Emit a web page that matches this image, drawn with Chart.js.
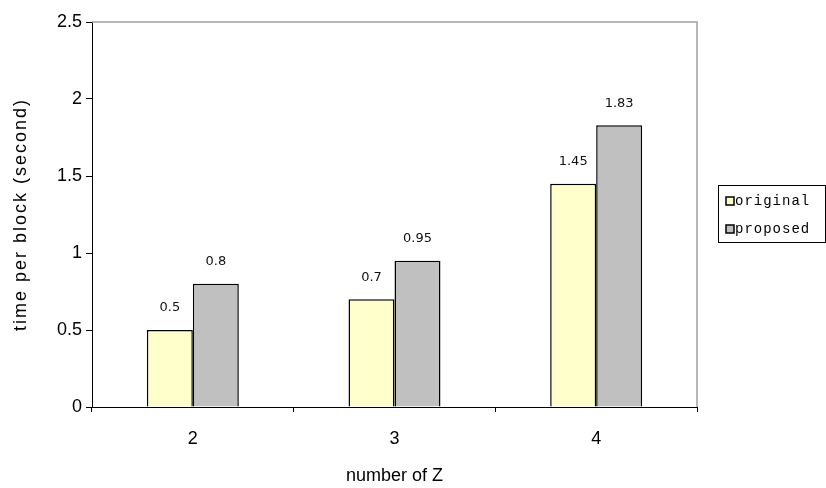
<!DOCTYPE html>
<html>
<head>
<meta charset="utf-8">
<script src="https://cdn.jsdelivr.net/npm/chart.js@4/dist/chart.umd.min.js"></script>
<style>
  html, body { margin: 0; padding: 0; background: #fff; }
  #wrap { width: 826px; height: 488px; }
</style>
</head>
<body>
<div id="wrap"><canvas id="timeChart" width="826" height="488"></canvas></div>
<script>
// number of Z vs. time per block
const categories = ['2', '3', '4'];
const original   = [0.5, 0.7, 1.45];
const proposed   = [0.8, 0.95, 1.83];
const seriesNames = ['original', 'proposed'];
const yTicks = [0, 0.5, 1, 1.5, 2, 2.5];

const fillColors = ['#FFFFCC', '#C0C0C0'];

// value labels above each bar
const barLabels = {
  id: 'barLabels',
  afterDatasetsDraw(chart) {
    const ctx = chart.ctx;
    ctx.save();
    ctx.font = '13px "DejaVu Sans", sans-serif';
    ctx.fillStyle = '#111';
    ctx.textAlign = 'center';
    ctx.textBaseline = 'middle';
    chart.data.datasets.forEach((ds, i) => {
      chart.getDatasetMeta(i).data.forEach((bar, j) => {
        ctx.fillText(String(ds.data[j]), bar.x, bar.y - 22);
      });
    });
    ctx.restore();
  }
};

// grey frame on top and right of the plot area
const plotFrame = {
  id: 'plotFrame',
  afterDraw(chart) {
    const { left, top, right, bottom } = chart.chartArea;
    const ctx = chart.ctx;
    ctx.save();
    ctx.strokeStyle = '#A0A0A0';
    ctx.lineWidth = 1.5;
    ctx.beginPath();
    ctx.moveTo(left, top);
    ctx.lineTo(right, top);
    ctx.lineTo(right, bottom);
    ctx.stroke();
    ctx.restore();
  }
};

// boxed legend on the right
const boxLegend = {
  id: 'boxLegend',
  afterDraw(chart) {
    const ctx = chart.ctx;
    const x0 = 718, y0 = 185, w = 107, h = 57;
    ctx.save();
    ctx.strokeStyle = '#000';
    ctx.lineWidth = 1;
    ctx.strokeRect(x0 + 0.5, y0 + 0.5, w, h);
    ctx.font = '14px "Liberation Mono", monospace';
    ctx.letterSpacing = '1px';
    ctx.textBaseline = 'middle';
    ctx.textAlign = 'left';
    const rows = [201, 229];
    chart.data.datasets.forEach((ds, i) => {
      const cy = rows[i];
      ctx.fillStyle = ds.backgroundColor;
      ctx.fillRect(726, cy - 4, 8, 8);
      ctx.lineWidth = 1.5;
      ctx.strokeRect(726, cy - 4, 8, 8);
      ctx.fillStyle = '#000';
      ctx.fillText(ds.label, 735, cy);
    });
    ctx.restore();
  }
};

// the y title is set a little wider than the default
function spacedTitle(scale) {
  if (scale._spaced) return;
  scale._spaced = true;
  const base = scale.drawTitle;
  scale.drawTitle = function () {
    const ctx = this.ctx;
    ctx.save();
    ctx.letterSpacing = '2px';
    base.call(this);
    ctx.restore();
  };
}

new Chart(document.getElementById('timeChart'), {
  type: 'bar',
  data: {
    labels: categories,
    datasets: [
      { label: seriesNames[0], data: original, backgroundColor: fillColors[0], borderColor: '#000', borderWidth: 1.5 },
      { label: seriesNames[1], data: proposed, backgroundColor: fillColors[1], borderColor: '#000', borderWidth: 1.5 }
    ]
  },
  options: {
    responsive: false,
    animation: false,
    categoryPercentage: 0.456,
    barPercentage: 1,
    layout: { padding: { top: 22, right: 129, left: 0, bottom: 0 } },
    plugins: { legend: { display: false }, tooltip: { enabled: false } },
    scales: {
      x: {
        afterFit: s => { s.height = 81; },
        grid: { offset: true, drawOnChartArea: false, drawTicks: true, tickLength: 5, color: '#000' },
        border: { color: '#000', width: 1 },
        ticks: { color: '#000', padding: 16, font: { family: 'Liberation Sans, Arial', size: 18 } },
        title: { display: true, text: 'number of Z', color: '#000', padding: { top: 0, bottom: 1 }, font: { family: 'Liberation Sans, Arial', size: 18 } }
      },
      y: {
        min: 0, max: 2.5,
        afterFit: s => { s.width = 92; spacedTitle(s); },
        afterBuildTicks: s => { s.ticks = yTicks.map(v => ({ value: v })); },
        grid: { drawOnChartArea: false, drawTicks: true, tickLength: 6, color: '#000' },
        border: { color: '#000', width: 1 },
        ticks: { color: '#000', padding: 4, callback: v => String(v), font: { family: 'Liberation Sans, Arial', size: 18 } },
        title: { display: true, text: 'time per block (second)', color: '#000', padding: { top: 10, bottom: 0 }, font: { family: 'Liberation Sans, Arial', size: 18 } }
      }
    }
  },
  plugins: [barLabels, plotFrame, boxLegend]
});
</script>
</body>
</html>
